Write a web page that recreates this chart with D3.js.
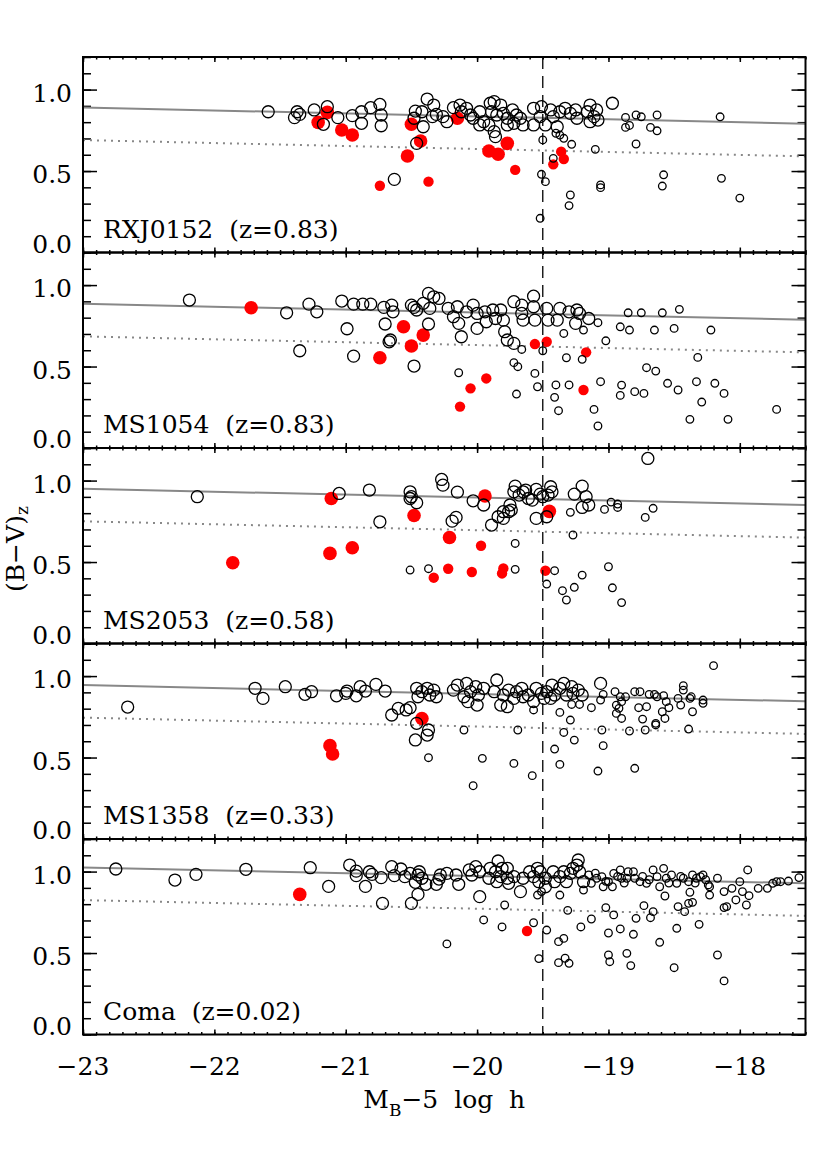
<!DOCTYPE html>
<html><head><meta charset="utf-8">
<script src="https://cdn.jsdelivr.net/npm/d3@7"></script>
<style>
body{margin:0;background:#fff}
svg{display:block}
text{font-family:"DejaVu Serif",serif;fill:#000}
</style>
</head><body>
<svg id="chart" width="830" height="1150"></svg>
<script>
// ---------------- data ----------------
const panelNames = ["RXJ0152  (z=0.83)", "MS1054  (z=0.83)", "MS2053  (z=0.58)", "MS1358  (z=0.33)", "Coma  (z=0.02)"];
const fitLeft  = [0.89, 0.885, 0.95, 0.945, 1.025];   // red-sequence fit at M=-23
const fitRight = [0.79, 0.787, 0.85, 0.845, 0.928];   // red-sequence fit at M=-17.5
const fitOffset = 0.2;                               // dotted line offset below fit
const magLimit = -19.5;
const xDomain = [-23, -17.5];
const yDomain = [0, 1.2];
const xTicks = [-23, -22, -21, -20, -19, -18];
const xTickLabels = ["\u221223", "\u221222", "\u221221", "\u221220", "\u221219", "\u221218"];
const yTicks = [0.0, 0.5, 1.0];
const yTickLabels = ["0.0", "0.5", "1.0"];

// RXJ0152
const rxjOpenL = [[-21.59,0.864],[-21.37,0.864],[-21.35,0.848],[-21.39,0.828],[-21.24,0.875],[-21.14,0.895],[-21.17,0.787],[-21.06,0.828],[-20.95,0.840],[-20.88,0.864],[-20.88,0.793],[-20.81,0.889],[-20.74,0.909],[-20.73,0.844],[-20.73,0.778],[-20.47,0.868],[-20.42,0.864],[-20.48,0.824],[-20.38,0.942],[-20.33,0.905],[-20.31,0.848],[-20.34,0.834],[-20.41,0.772],[-20.46,0.670],[-20.26,0.834],[-20.23,0.803],[-20.18,0.889],[-20.13,0.905],[-20.12,0.864],[-20.08,0.885],[-20.05,0.844],[-20.03,0.824],[-19.98,0.864],[-19.98,0.783],[-19.90,0.916],[-19.87,0.926],[-19.82,0.905],[-19.89,0.864],[-19.85,0.844],[-19.80,0.854],[-19.77,0.824],[-19.73,0.875],[-19.70,0.844],[-19.67,0.824],[-19.65,0.783],[-19.87,0.742],[-19.86,0.711],[-19.95,0.803],[-19.91,0.783],[-19.77,0.783],[-19.72,0.793],[-19.57,0.885],[-19.51,0.895],[-19.44,0.875],[-19.52,0.834],[-19.48,0.783],[-19.57,0.783],[-19.42,0.834],[-19.39,0.772],[-19.37,0.864],[-19.33,0.885],[-19.29,0.854],[-19.25,0.875],[-19.24,0.824],[-19.16,0.864],[-19.14,0.905],[-19.11,0.834],[-19.09,0.875],[-19.14,0.803],[-19.08,0.813],[-18.97,0.916],[-20.63,0.449]];
const rxjOpenS = [[-19.37,0.721],[-19.34,0.701],[-19.40,0.732],[-19.50,0.691],[-19.28,0.664],[-19.10,0.633],[-19.51,0.480],[-19.48,0.435],[-19.29,0.353],[-19.30,0.288],[-19.06,0.415],[-19.06,0.398],[-19.52,0.210],[-19.42,0.578],[-18.87,0.829],[-18.79,0.844],[-18.75,0.833],[-18.87,0.768],[-18.84,0.780],[-18.68,0.768],[-18.63,0.747],[-18.63,0.844],[-18.79,0.666],[-18.15,0.833],[-18.58,0.477],[-18.59,0.408],[-18.14,0.455],[-18.00,0.334]];
const rxjRedL = [[-21.21,0.799],[-21.14,0.860],[-21.03,0.752],[-20.95,0.721],[-20.50,0.787],[-20.43,0.684],[-20.53,0.592],[-20.15,0.824],[-19.91,0.623],[-19.84,0.603],[-19.77,0.670]];
const rxjRedS = [[-20.74,0.410],[-20.37,0.435],[-19.71,0.507],[-19.42,0.541],[-19.36,0.619],[-19.34,0.574]];

// MS1054
const ms1054OpenL = [[-22.19,0.908],[-21.45,0.830],[-21.28,0.883],[-21.22,0.836],[-21.35,0.597],[-21.03,0.902],[-20.94,0.883],[-20.87,0.883],[-20.81,0.883],[-20.99,0.732],[-20.94,0.564],[-20.71,0.863],[-20.65,0.877],[-20.64,0.836],[-20.70,0.761],[-20.66,0.663],[-20.67,0.652],[-20.50,0.877],[-20.48,0.863],[-20.46,0.847],[-20.41,0.888],[-20.37,0.949],[-20.33,0.928],[-20.29,0.918],[-20.36,0.857],[-20.37,0.761],[-20.48,0.503],[-20.22,0.857],[-20.15,0.867],[-20.18,0.806],[-20.14,0.765],[-20.12,0.683],[-20.08,0.836],[-20.03,0.877],[-20.00,0.826],[-20.00,0.734],[-19.94,0.836],[-19.93,0.775],[-19.88,0.847],[-19.86,0.795],[-19.82,0.847],[-19.80,0.785],[-19.79,0.714],[-19.77,0.663],[-19.72,0.642],[-19.72,0.898],[-19.66,0.877],[-19.66,0.826],[-19.65,0.785],[-19.57,0.932],[-19.57,0.867],[-19.56,0.785],[-19.47,0.857],[-19.46,0.785],[-19.37,0.857],[-19.39,0.785],[-19.30,0.836],[-19.24,0.847],[-19.25,0.765],[-19.22,0.826],[-19.15,0.795]];
const ms1054OpenS = [[-20.14,0.462],[-19.72,0.524],[-19.69,0.499],[-19.70,0.331],[-19.66,0.605],[-19.56,0.458],[-19.54,0.376],[-19.50,0.597],[-19.34,0.703],[-19.19,0.724],[-19.08,0.769],[-19.02,0.658],[-19.32,0.554],[-19.20,0.544],[-19.40,0.387],[-19.30,0.387],[-19.41,0.311],[-19.38,0.229],[-19.11,0.237],[-19.08,0.135],[-19.06,0.407],[-18.85,0.830],[-18.75,0.830],[-18.59,0.830],[-18.46,0.851],[-18.91,0.744],[-18.84,0.724],[-18.65,0.724],[-18.50,0.734],[-18.22,0.724],[-18.32,0.556],[-18.71,0.493],[-18.64,0.472],[-18.55,0.397],[-18.47,0.356],[-18.90,0.386],[-18.91,0.323],[-18.80,0.346],[-18.73,0.335],[-18.33,0.407],[-18.19,0.397],[-18.12,0.335],[-18.29,0.282],[-18.38,0.176],[-18.09,0.176],[-17.72,0.237]];
const ms1054RedL = [[-21.72,0.861],[-20.56,0.744],[-20.41,0.693],[-20.50,0.626],[-20.74,0.554]];
const ms1054RedS = [[-19.93,0.427],[-20.05,0.366],[-20.13,0.254],[-19.56,0.638],[-19.47,0.652],[-19.17,0.587],[-19.19,0.356]];

// MS2053
const ms2053OpenL = [[-22.13,0.901],[-21.05,0.921],[-20.82,0.942],[-20.74,0.747],[-20.51,0.931],[-20.50,0.901],[-20.46,0.864],[-20.51,0.890],[-20.27,1.007],[-20.26,0.972],[-20.15,0.929],[-20.16,0.774],[-20.19,0.751],[-20.03,0.876],[-19.95,0.850],[-19.89,0.727],[-19.84,0.778],[-19.80,0.809],[-19.80,0.768],[-19.75,0.850],[-19.74,0.819],[-19.76,0.809],[-19.71,0.966],[-19.72,0.931],[-19.68,0.911],[-19.65,0.931],[-19.63,0.942],[-19.61,0.890],[-19.58,0.880],[-19.55,0.946],[-19.52,0.917],[-19.50,0.901],[-19.44,0.962],[-19.43,0.931],[-19.46,0.911],[-19.55,0.768],[-19.47,0.778],[-19.20,0.966],[-19.26,0.917],[-19.17,0.901],[-19.20,0.835],[-19.15,0.850],[-18.70,1.136]];
const ms2053OpenS = [[-20.51,0.451],[-20.37,0.459],[-19.71,0.614],[-19.71,0.455],[-19.41,0.447],[-19.47,0.365],[-19.35,0.324],[-19.32,0.267],[-19.26,0.345],[-19.20,0.420],[-19.27,0.666],[-19.29,0.805],[-19.03,0.823],[-18.98,0.868],[-18.93,0.856],[-18.93,0.835],[-19.00,0.471],[-18.97,0.342],[-18.90,0.251],[-18.72,0.774],[-18.66,0.830]];
const ms2053RedL = [[-21.86,0.496],[-21.11,0.890],[-21.12,0.553],[-20.95,0.588],[-20.48,0.786],[-20.21,0.651],[-19.94,0.905],[-19.45,0.811]];
const ms2053RedS = [[-19.97,0.600],[-20.22,0.459],[-20.33,0.404],[-20.04,0.439],[-19.80,0.461],[-19.81,0.430],[-19.48,0.447]];

// MS1358
const ms1358OpenL = [[-22.66,0.810],[-21.69,0.925],[-21.63,0.863],[-21.46,0.935],[-21.31,0.888],[-21.26,0.904],[-21.07,0.879],[-21.00,0.894],[-20.99,0.908],[-20.92,0.879],[-20.89,0.935],[-20.85,0.908],[-20.77,0.949],[-20.70,0.908],[-20.65,0.761],[-20.60,0.802],[-20.54,0.792],[-20.51,0.806],[-20.46,0.710],[-20.37,0.669],[-20.38,0.638],[-20.47,0.608],[-20.46,0.925],[-20.42,0.904],[-20.38,0.925],[-20.36,0.884],[-20.31,0.873],[-20.45,0.873],[-20.33,0.914],[-20.18,0.914],[-20.15,0.945],[-20.10,0.873],[-20.08,0.955],[-20.05,0.904],[-20.01,0.935],[-20.00,0.822],[-19.99,0.884],[-19.95,0.925],[-20.07,0.843],[-19.85,0.976],[-19.87,0.904],[-19.82,0.822],[-19.77,0.812],[-19.80,0.884],[-19.76,0.914],[-19.72,0.863],[-19.70,0.904],[-19.66,0.925],[-19.65,0.873],[-19.61,0.884],[-19.57,0.843],[-19.55,0.925],[-19.51,0.894],[-19.47,0.904],[-19.43,0.945],[-19.41,0.884],[-19.37,0.925],[-19.34,0.955],[-19.32,0.884],[-19.28,0.935],[-19.27,0.894],[-19.23,0.914],[-19.20,0.884],[-19.49,0.863],[-19.44,0.863],[-19.06,0.955]];
const ms1358OpenS = [[-19.57,0.792],[-19.37,0.777],[-19.29,0.730],[-19.34,0.654],[-19.26,0.607],[-19.41,0.552],[-19.37,0.458],[-19.58,0.389],[-20.03,0.327],[-19.72,0.464],[-19.96,0.495],[-20.37,0.499],[-20.10,0.669],[-19.69,0.669],[-19.28,0.826],[-19.22,0.826],[-19.13,0.806],[-19.06,0.853],[-19.04,0.888],[-18.95,0.904],[-18.91,0.873],[-18.94,0.822],[-18.90,0.843],[-18.87,0.873],[-18.92,0.802],[-18.94,0.771],[-18.90,0.740],[-18.80,0.904],[-18.76,0.904],[-18.77,0.806],[-18.71,0.812],[-18.69,0.888],[-18.63,0.873],[-18.65,0.888],[-18.58,0.880],[-18.56,0.843],[-18.54,0.806],[-18.59,0.781],[-18.57,0.740],[-18.64,0.710],[-18.64,0.700],[-18.74,0.736],[-18.72,0.669],[-18.84,0.663],[-19.05,0.669],[-19.04,0.573],[-19.08,0.417],[-18.80,0.434],[-18.43,0.941],[-18.43,0.914],[-18.47,0.863],[-18.45,0.822],[-18.37,0.873],[-18.38,0.863],[-18.36,0.781],[-18.39,0.675],[-18.28,0.853],[-18.28,0.833],[-18.20,1.064]];
const ms1358RedL = [[-21.12,0.573],[-21.10,0.522],[-20.42,0.740]];
const ms1358RedS = [];

// Coma
const comaOpenL = [[-22.75,1.016],[-22.30,0.948],[-22.14,0.983],[-21.76,1.014],[-21.27,1.024],[-21.13,0.909],[-20.97,1.040],[-20.92,1.003],[-20.92,0.975],[-20.85,0.909],[-20.82,0.999],[-20.80,0.983],[-20.72,0.805],[-20.73,0.963],[-20.65,1.030],[-20.63,0.975],[-20.58,1.016],[-20.55,0.969],[-20.51,0.989],[-20.47,0.934],[-20.45,0.979],[-20.44,0.999],[-20.42,0.959],[-20.45,0.860],[-20.50,0.805],[-20.39,0.922],[-20.31,0.922],[-20.28,0.979],[-20.29,0.954],[-20.23,0.989],[-20.14,0.922],[-20.16,0.979],[-20.06,1.010],[-20.04,0.979],[-20.01,1.030],[-19.98,0.999],[-19.98,0.846],[-19.84,1.065],[-19.81,1.020],[-19.77,1.020],[-19.77,0.959],[-19.86,0.999],[-19.82,0.969],[-19.90,1.020],[-19.91,0.959],[-19.85,0.938],[-19.76,0.928],[-19.72,0.969],[-19.67,0.877],[-19.65,0.959],[-19.60,0.999],[-19.57,0.969],[-19.54,1.020],[-19.52,0.999],[-19.53,0.938],[-19.48,0.959],[-19.48,0.907],[-19.42,0.999],[-19.41,0.938],[-19.37,0.969],[-19.34,0.999],[-19.32,0.938],[-19.29,0.989],[-19.27,1.020],[-19.24,1.040],[-19.23,1.071],[-19.22,0.999],[-19.19,0.938]];
const comaOpenS = [[-19.15,0.979],[-19.13,0.928],[-19.09,0.959],[-19.05,0.969],[-19.04,0.907],[-19.00,0.938],[-18.96,0.989],[-18.97,0.907],[-18.91,1.010],[-18.90,0.959],[-18.86,0.959],[-18.85,0.999],[-18.81,0.999],[-18.80,0.959],[-18.76,0.938],[-18.71,0.928],[-18.66,1.010],[-18.63,0.969],[-18.61,0.907],[-18.58,1.020],[-18.56,0.959],[-18.52,0.979],[-18.48,0.928],[-18.43,0.959],[-18.39,0.938],[-18.36,0.979],[-18.33,0.959],[-18.30,0.969],[-18.28,0.979],[-18.24,0.918],[-18.23,0.907],[-18.17,0.959],[-19.10,0.990],[-19.02,0.940],[-18.93,0.970],[-18.88,0.930],[-18.74,0.970],[-18.69,0.950],[-18.54,0.930],[-18.45,0.970],[-18.34,0.930],[-18.26,0.950],[-20.23,0.556],[-19.95,0.703],[-19.79,0.795],[-19.81,0.660],[-19.57,0.686],[-19.54,0.856],[-19.51,0.877],[-19.47,0.641],[-19.53,0.466],[-19.37,0.856],[-19.31,0.762],[-19.34,0.590],[-19.38,0.570],[-19.38,0.441],[-19.33,0.468],[-19.30,0.437],[-19.21,0.660],[-19.19,0.887],[-19.13,0.709],[-19.02,0.779],[-18.96,0.734],[-19.00,0.623],[-19.00,0.488],[-18.99,0.447],[-18.91,0.648],[-18.86,0.498],[-18.83,0.423],[-18.81,0.615],[-18.79,0.713],[-18.73,0.791],[-18.68,0.717],[-18.66,0.754],[-18.61,0.566],[-18.57,0.850],[-18.50,0.410],[-18.47,0.785],[-18.48,0.652],[-18.42,0.754],[-18.39,0.805],[-18.36,0.811],[-18.38,0.873],[-18.31,0.676],[-18.23,0.856],[-18.17,0.488],[-18.12,0.329],[-18.12,0.877],[-18.12,0.779],[-18.10,0.785],[-18.06,0.897],[-18.03,0.826],[-18.00,0.938],[-17.98,0.877],[-17.95,0.795],[-17.93,0.852],[-17.94,1.010],[-17.86,0.897],[-17.79,0.897],[-17.75,0.928],[-17.72,0.938],[-17.69,0.938],[-17.63,0.942],[-17.55,0.963]];
const comaRedL = [[-21.35,0.860]];
const comaRedS = [[-19.62,0.635]];

const openL = [rxjOpenL, ms1054OpenL, ms2053OpenL, ms1358OpenL, comaOpenL];
const openS = [rxjOpenS, ms1054OpenS, ms2053OpenS, ms1358OpenS, comaOpenS];
const redL  = [rxjRedL, ms1054RedL, ms2053RedL, ms1358RedL, comaRedL];
const redS  = [rxjRedS, ms1054RedS, ms2053RedS, ms1358RedS, comaRedS];

// ---------------- layout ----------------
const plotLeft = 83, plotRight = 805.5, plotTop = 57, panelH = 195.5;
const nP = panelNames.length;
const svg = d3.select("#chart");
const x = d3.scaleLinear().domain(xDomain).range([plotLeft, plotRight]);
const xMinor = d3.range(-230, -174).map(v => v / 10);
const yMinor = d3.range(0, 13).map(v => v / 10);

for (let i = 0; i < nP; i++) {
  const y0 = plotTop + i * panelH, y1 = y0 + panelH;
  const y = d3.scaleLinear().domain(yDomain).range([y1, y0]);
  const g = svg.append("g");

  const mk = (axis, tr) => {
    const a = g.append("g").attr("transform", tr).call(axis);
    a.select(".domain").remove();
    a.selectAll("text").remove();
    a.selectAll("line").attr("stroke", "#000").attr("stroke-width", 1.5);
  };
  mk(d3.axisBottom(x).tickValues(xMinor).tickSize(-2.5), `translate(0,${y1})`);
  mk(d3.axisBottom(x).tickValues(xTicks).tickSize(-5), `translate(0,${y1})`);
  mk(d3.axisTop(x).tickValues(xMinor).tickSize(-2.5), `translate(0,${y0})`);
  mk(d3.axisTop(x).tickValues(xTicks).tickSize(-5), `translate(0,${y0})`);
  mk(d3.axisLeft(y).tickValues(yMinor).tickSize(-8), `translate(${plotLeft},0)`);
  mk(d3.axisLeft(y).tickValues(yTicks).tickSize(-14), `translate(${plotLeft},0)`);
  mk(d3.axisRight(y).tickValues(yMinor).tickSize(-8), `translate(${plotRight},0)`);
  mk(d3.axisRight(y).tickValues(yTicks).tickSize(-14), `translate(${plotRight},0)`);

  g.selectAll(".ylab").data(yTicks).join("text")
    .attr("x", 72)
    .attr("y", (d) => y(d) + (d === 0 ? -9 : 3))
    .attr("dy", "0.36em")
    .attr("text-anchor", "end")
    .attr("font-size", 25)
    .text((d, j) => yTickLabels[j]);

  const line = d3.line().x(d => x(d[0])).y(d => y(d[1]));
  g.append("path").datum([[xDomain[0], fitLeft[i]], [xDomain[1], fitRight[i]]])
    .attr("d", line).attr("fill", "none").attr("stroke", "#888").attr("stroke-width", 2);
  g.append("path").datum([[xDomain[0], fitLeft[i] - fitOffset], [xDomain[1], fitRight[i] - fitOffset]])
    .attr("d", line).attr("fill", "none").attr("stroke", "#888").attr("stroke-width", 2)
    .attr("stroke-dasharray", "2,5");

  const pts = g.append("g");
  pts.selectAll(".rl").data(redL[i]).join("circle")
    .attr("cx", d => x(d[0])).attr("cy", d => y(d[1])).attr("r", 6.8).attr("fill", "#ff0000");
  pts.selectAll(".rs").data(redS[i]).join("circle")
    .attr("cx", d => x(d[0])).attr("cy", d => y(d[1])).attr("r", 5.2).attr("fill", "#ff0000");
  pts.selectAll(".ol").data(openL[i]).join("circle")
    .attr("cx", d => x(d[0])).attr("cy", d => y(d[1])).attr("r", 6)
    .attr("fill", "none").attr("stroke", "#000").attr("stroke-width", 1.3);
  pts.selectAll(".os").data(openS[i]).join("circle")
    .attr("cx", d => x(d[0])).attr("cy", d => y(d[1])).attr("r", 3.8)
    .attr("fill", "none").attr("stroke", "#000").attr("stroke-width", 1.3);

  g.append("text").attr("x", 103).attr("y", y1 - 15)
    .attr("font-size", 25).style("white-space", "pre")
    .text(panelNames[i]);

  g.append("rect").attr("x", plotLeft).attr("y", y0).attr("width", plotRight - plotLeft).attr("height", panelH)
    .attr("fill", "none").attr("stroke", "#000").attr("stroke-width", 2);
}

const yAll0 = plotTop, yAll1 = plotTop + nP * panelH;
svg.append("line").attr("x1", x(magLimit)).attr("x2", x(magLimit))
  .attr("y1", yAll0).attr("y2", yAll1)
  .attr("stroke", "#000").attr("stroke-width", 1.3).attr("stroke-dasharray", "12,7");

svg.selectAll(".xlab").data(xTicks).join("text")
  .attr("x", d => x(d)).attr("y", 1075)
  .attr("text-anchor", "middle").attr("font-size", 25)
  .text((d, j) => xTickLabels[j]);

const xt = svg.append("text").attr("x", (plotLeft + plotRight) / 2).attr("y", 1108)
  .attr("text-anchor", "middle").attr("font-size", 25).style("white-space", "pre");
xt.append("tspan").text("M");
xt.append("tspan").attr("font-size", 17).attr("dy", 8).text("B");
xt.append("tspan").attr("dy", -8).text("\u22125  log  h");

const yt = svg.append("text").attr("transform", "translate(24,592) rotate(-90)")
  .attr("font-size", 25);
yt.append("tspan").text("(B\u2212V)");
yt.append("tspan").attr("font-size", 17).attr("dy", 4).text("z");
</script>
</body></html>
